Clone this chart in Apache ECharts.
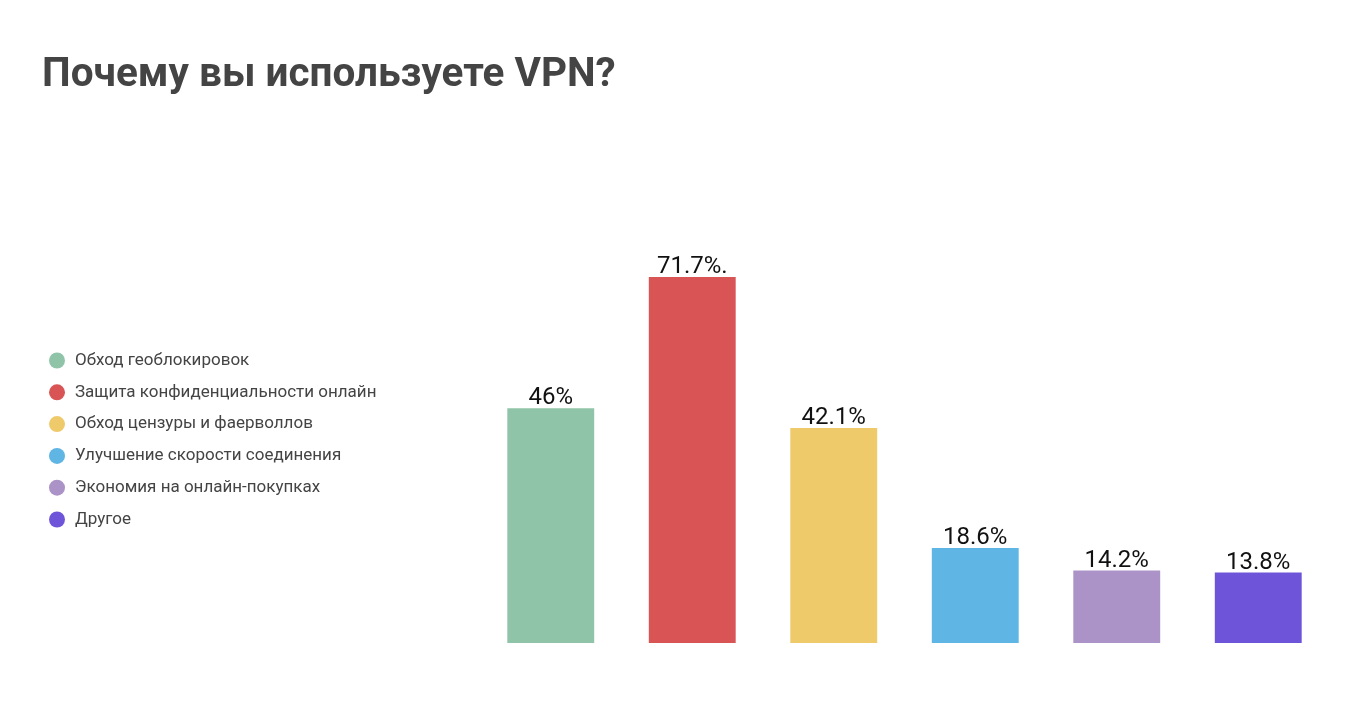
<!DOCTYPE html>
<html>
<head>
<meta charset="utf-8">
<script src="https://cdn.jsdelivr.net/npm/echarts@6/dist/echarts.min.js"></script>
<style>
html,body{margin:0;padding:0;background:#fff;}
#c{width:1368px;height:711px;}
</style>
</head>
<body>
<div id="c"></div>
<script>
const titleText = 'Почему вы используете VPN?';
const categories = ['Обход геоблокировок','Защита конфиденциальности онлайн','Обход цензуры и фаерволлов','Улучшение скорости соединения','Экономия на онлайн-покупках','Другое'];
const values = [46, 71.7, 42.1, 18.6, 14.2, 13.8];
const valueLabels = ['46%','71.7%.','42.1%','18.6%','14.2%','13.8%'];
const colors = ['#8fc4a8','#d95455','#eeca6b','#5fb5e4','#ac93c7','#6e54d9'];

const chart = echarts.init(document.getElementById('c'));
const series = categories.map((name, i) => ({
  name: name,
  type: 'bar',
  stack: 'all',
  barWidth: '61.4%',
  itemStyle: { color: colors[i] },
  data: values.map((v, j) => j === i ? v : null),
  label: {
    show: true,
    position: 'top',
    distance: -2,
    color: '#111',
    fontSize: 24,
    fontFamily: 'Roboto',
    formatter: () => valueLabels[i]
  },
  emphasis: { disabled: true }
}));

chart.setOption({
  animation: false,
  backgroundColor: '#fff',
  title: {
    text: titleText,
    left: 37,
    top: 50,
    textStyle: { fontFamily: 'Roboto', fontWeight: 'bold', fontSize: 40.5, color: '#444' }
  },
  legend: {
    orient: 'vertical',
    left: 44,
    top: 347,
    icon: 'circle',
    itemWidth: 16,
    itemHeight: 16,
    itemGap: 14.8,
    data: categories,
    textStyle: { fontFamily: 'Roboto', fontSize: 17, color: '#444', padding: [0,0,0,5] },
    selectedMode: false
  },
  grid: { left: 480, right: 39, bottom: 68, top: 234.6, containLabel: false },
  xAxis: {
    type: 'category',
    data: categories,
    show: false
  },
  yAxis: {
    type: 'value',
    min: 0,
    max: 80,
    show: false,
    splitLine: { show: false }
  },
  series: series
});
</script>
</body>
</html>
